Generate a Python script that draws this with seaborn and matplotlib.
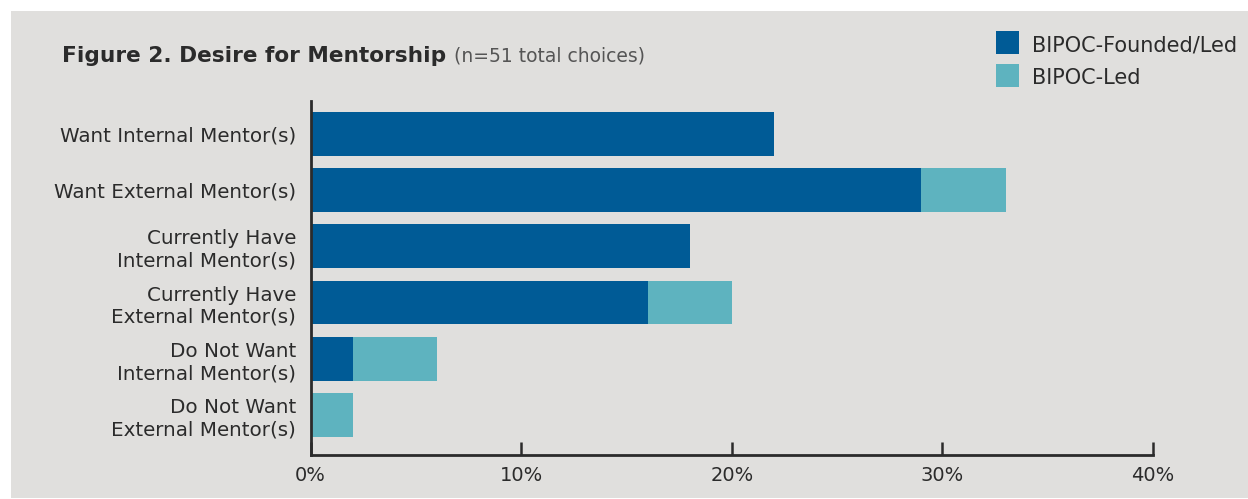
import matplotlib
matplotlib.use("Agg")
import matplotlib.pyplot as plt
from matplotlib.patches import Rectangle
import pandas as pd
import seaborn as sns

# Survey responses: share of total choices (%), split by organisation type
categories = [
    "Want Internal Mentor(s)",
    "Want External Mentor(s)",
    "Currently Have\nInternal Mentor(s)",
    "Currently Have\nExternal Mentor(s)",
    "Do Not Want\nInternal Mentor(s)",
    "Do Not Want\nExternal Mentor(s)",
]
founded_led = [22, 29, 18, 16, 2, 0]
led = [0, 4, 0, 4, 4, 2]
series_names = ["BIPOC-Founded/Led", "BIPOC-Led"]
x_ticks = [0, 10, 20, 30, 40]
x_tick_labels = ["0%", "10%", "20%", "30%", "40%"]
title = "Figure 2. Desire for Mentorship"
subtitle = "(n=51 total choices)"

DARK = "#005b96"
TEAL = "#5eb3bf"
PANEL = "#e0dfdd"
INK = "#2b2b2b"
FONT = "DejaVu Sans"

sns.set_theme(style="white")
plt.rcParams["font.family"] = [FONT]

df = pd.DataFrame({
    "category": categories,
    "founded_led": founded_led,
    "led": led,
})
df["total"] = df["founded_led"] + df["led"]

W, H = 1248, 499
fig = plt.figure(figsize=(W / 100, H / 100), dpi=100, facecolor="white")
# grey panel behind the whole chart
fig.add_artist(Rectangle((11 / W, 1 / H), 1 - 11 / W, (498 - 11) / H,
                         transform=fig.transFigure, facecolor=PANEL,
                         edgecolor="none", zorder=0))

ax = fig.add_axes([310.6 / W, 1 - 455 / H, (1153 - 310.6) / W, (455 - 101) / H])
ax.set_facecolor(PANEL)

# stacked bars: full total in teal, founded/led share drawn over it
sns.barplot(data=df, x="total", y="category", orient="h", color=TEAL,
            width=0.78, saturation=1, linewidth=0, ax=ax, zorder=2)
sns.barplot(data=df, x="founded_led", y="category", orient="h", color=DARK,
            width=0.78, saturation=1, linewidth=0, ax=ax, zorder=3)

ax.set_xlim(0, 40)
ax.set_ylim(5.711, -0.583)
ax.set_xlabel("")
ax.set_ylabel("")
ax.set_xticks(x_ticks)
ax.set_xticklabels(x_tick_labels)

for side in ("top", "right"):
    ax.spines[side].set_visible(False)
for side in ("left", "bottom"):
    ax.spines[side].set_color(INK)
    ax.spines[side].set_linewidth(2.0)
    ax.spines[side].set_zorder(5)

ax.tick_params(axis="x", bottom=True, direction="in", length=9.4, width=1.8,
               color=INK, labelsize=14, labelcolor=INK, pad=8)
ax.tick_params(axis="y", left=False, length=0, labelsize=14.3, labelcolor=INK,
               pad=10.5)
for lbl in ax.get_yticklabels():
    lbl.set_linespacing(1.22)

# title with the sample size note beside it
t = fig.text(62 / W, 1 - 62 / H, title, fontsize=15.6, fontweight="bold",
             color=INK, va="baseline", ha="left")
fig.canvas.draw()
bb = t.get_window_extent()
fig.text((bb.x1 + 8) / W, 1 - 62 / H, subtitle, fontsize=13.5,
         color="#555555", va="baseline", ha="left")

# legend: colour swatches with labels, top right
swatch_tops = [31, 64]
for name, colour, top in zip(series_names, [DARK, TEAL], swatch_tops):
    fig.add_artist(Rectangle((996 / W, 1 - (top + 23) / H), 23 / W, 23 / H,
                             transform=fig.transFigure, facecolor=colour,
                             edgecolor="none"))
    fig.text(1032 / W, 1 - (top + 12.5) / H, name, fontsize=15, color=INK,
             va="center_baseline", ha="left")

fig.savefig("out.png", dpi=100, facecolor="white")
